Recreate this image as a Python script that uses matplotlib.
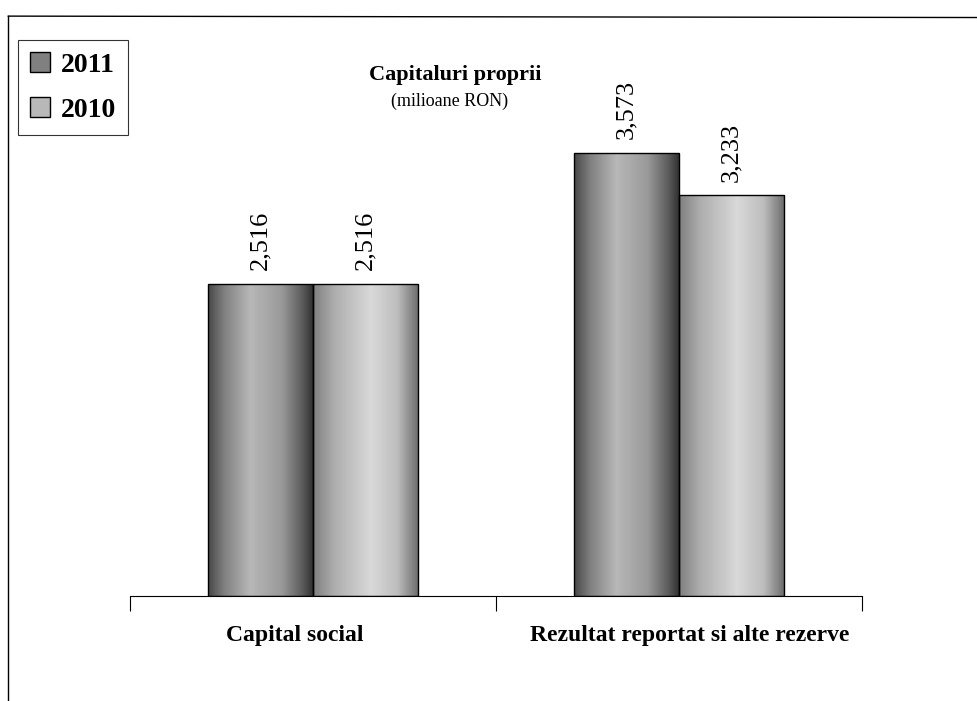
import numpy as np
import matplotlib
matplotlib.use("Agg")
import matplotlib.pyplot as plt
from matplotlib.patches import Patch

plt.rcParams['font.family'] = ['Liberation Serif', 'DejaVu Serif']

categories = ["Capital social", "Rezultat reportat si alte rezerve"]
years = ["2011", "2010"]
values_2011 = [2516, 3573]
values_2010 = [2516, 3233]

# cylinder-like shading profiles (position across bar, grey level)
shade = {
    "2011": ([0, 0.15, 0.4, 0.7, 0.9, 1.0], [0.28, 0.5, 0.72, 0.6, 0.35, 0.18]),
    "2010": ([0, 0.2, 0.55, 0.8, 1.0], [0.5, 0.68, 0.85, 0.74, 0.42]),
}

fig = plt.figure(figsize=(9.78, 7.01), dpi=100)
ax = fig.add_axes([0.1329, 0.1498, 0.7485, 0.6933])

x = np.arange(len(categories))
w = 0.287
for off, yr, vals in [(-w / 2, "2011", values_2011), (w / 2, "2010", values_2010)]:
    bars = ax.bar(x + off, vals, width=w, facecolor="none", edgecolor="black", lw=1, zorder=3)
    pos, lev = shade[yr]
    prof = np.interp(np.linspace(0, 1, 200), pos, lev)[None, :]
    for b, v in zip(bars, vals):
        x0 = b.get_x()
        im = ax.imshow(prof, cmap="gray", vmin=0, vmax=1, aspect="auto",
                       extent=[x0, x0 + w, 0, v], zorder=2)
        im.set_clip_path(b)
        ax.text(x0 + w / 2, v + 110, f"{v:,}", rotation=90, ha="center", va="bottom",
                fontsize=19, zorder=4)

ax.set_xlim(-0.5, 1.5)
ax.set_ylim(0, 3920)
for s in ["top", "right", "left"]:
    ax.spines[s].set_visible(False)
ax.spines["bottom"].set_linewidth(0.8)
ax.set_yticks([])
ax.set_xticks([-0.5, 0.5, 1.5])
ax.set_xticklabels([])
ax.tick_params(axis="x", direction="out", length=11, width=0.8)
for xi, c, dx in zip(x, categories, [-0.05, 0.03]):
    ax.text(xi + dx, -230, c, ha="center", va="top", fontsize=17, fontweight="bold")

fig.text(0.465, 0.893, "Capitaluri proprii", ha="center", va="center",
         fontsize=16, fontweight="bold")
fig.text(0.46, 0.856, "(milioane RON)", ha="center", va="center", fontsize=13)

# outer frame (left and top)
fig.add_artist(plt.Line2D([0.0085, 0.0085], [0, 0.977], color="black", lw=1))
fig.add_artist(plt.Line2D([0.0085, 1.0], [0.977, 0.975], color="black", lw=1))

handles = [Patch(facecolor="0.5", edgecolor="black"),
           Patch(facecolor="0.72", edgecolor="black")]
leg = fig.legend(handles, years, loc="upper left", bbox_to_anchor=(0.018, 0.943),
                 frameon=True, fancybox=False, edgecolor="black",
                 prop={"size": 20, "weight": "bold"}, handlelength=0.7, handleheight=0.7,
                 handletextpad=0.4, borderpad=0.45, labelspacing=0.7, borderaxespad=0)
leg.get_frame().set_linewidth(0.8)

fig.savefig("out.png", dpi=100)
